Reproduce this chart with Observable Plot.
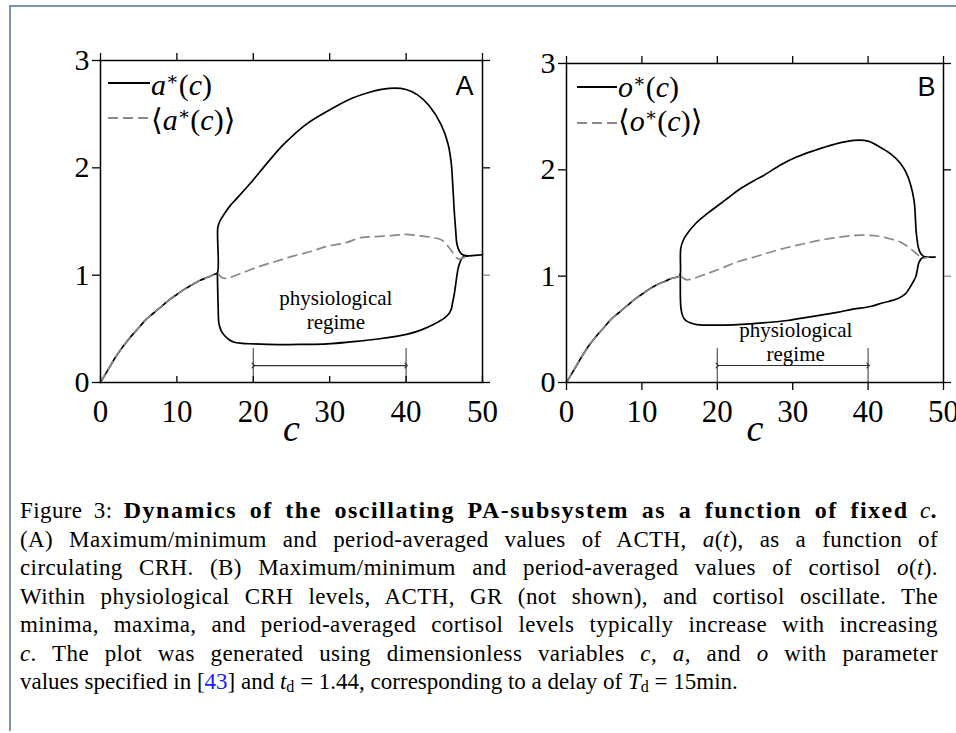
<!DOCTYPE html>
<html><head><meta charset="utf-8">
<script src="https://cdn.jsdelivr.net/npm/d3@7"></script>
<script src="https://cdn.jsdelivr.net/npm/@observablehq/plot@0.6"></script>
<style>
html,body{margin:0;padding:0;background:#fff;}
#page{position:relative;width:956px;height:733px;overflow:hidden;background:#fff;font-family:"Liberation Serif",serif;color:#000;}
#border{position:absolute;left:9px;top:5px;right:-4px;bottom:2px;border-left:2px solid #7b93b5;border-top:2px solid #7b93b5;}
.panel{position:absolute;top:0;}
.leg{position:absolute;font-size:30px;line-height:30px;white-space:nowrap;font-family:"Liberation Serif","DejaVu Serif",serif;}
.leg sup{font-size:0.62em;line-height:0;vertical-align:0.55em;}
.sw{position:absolute;height:2px;}
.solid{background:#000;}
.dash{background:repeating-linear-gradient(to right,#8a8a8a 0 10px,transparent 10px 15px);}
#caption{position:absolute;left:20px;top:496px;width:918px;font-size:23px;line-height:28.5px;font-family:"Liberation Serif",serif;}
#caption .j{display:block;text-align:justify;text-align-last:justify;letter-spacing:0.4px;}
#caption .l{display:block;text-align:left;}
#caption b{letter-spacing:1.5px;font-size:24px;}
#caption sub{font-size:0.7em;line-height:0;vertical-align:-0.2em;}
.ref{color:#1a1aff;}
</style></head>
<body><div id="page">
<div id="border"></div>
<div id="pA" class="panel" style="left:0px"></div>
<div id="pB" class="panel" style="left:470px"></div>
<div class="sw solid" style="left:108px;top:82px;width:42px"></div>
<div class="leg" style="left:151px;top:70px"><i>a</i><sup>∗</sup>(<i>c</i>)</div>
<div class="sw dash" style="left:108px;top:117px;width:42px"></div>
<div class="leg" style="left:151px;top:105px">⟨<i>a</i><sup>∗</sup>(<i>c</i>)⟩</div>
<div class="sw solid" style="left:577px;top:86px;width:40px"></div>
<div class="leg" style="left:618px;top:72px"><i>o</i><sup>∗</sup>(<i>c</i>)</div>
<div class="sw dash" style="left:577px;top:122px;width:40px"></div>
<div class="leg" style="left:618px;top:106px">⟨<i>o</i><sup>∗</sup>(<i>c</i>)⟩</div>
<div id="caption">
<span class="j">Figure 3: <b>Dynamics of the oscillating PA-subsystem as a function of fixed</b> <i>c</i><b>.</b></span>
<span class="j">(A) Maximum/minimum and period-averaged values of ACTH, <i>a</i>(<i>t</i>), as a function of</span>
<span class="j">circulating CRH. (B) Maximum/minimum and period-averaged values of cortisol <i>o</i>(<i>t</i>).</span>
<span class="j">Within physiological CRH levels, ACTH, GR (not shown), and cortisol oscillate. The</span>
<span class="j">minima, maxima, and period-averaged cortisol levels typically increase with increasing</span>
<span class="j"><i>c</i>. The plot was generated using dimensionless variables <i>c</i>, <i>a</i>, and <i>o</i> with parameter</span>
<span class="l">values specified in [<span class="ref">43</span>] and <i>t</i><sub>d</sub> = 1.44, corresponding to a delay of <i>T</i><sub>d</sub> = 15min.</span>
</div>
</div>
<script>
// ---- ticks ----
const xTicks = [0, 10, 20, 30, 40, 50];
const yTicks = [0, 1, 2, 3];
const yTicksBlack = [0, 2, 3];
const yTicksGray = [1];

// ---- Panel A: ACTH a*(c) ----
const aSteadyC = [0, 1, 2, 3, 4, 5, 6, 7, 8, 9, 10, 11, 12, 13, 14, 15, 15.3];
const aSteadyV = [0, 0.12, 0.24, 0.34, 0.43, 0.51, 0.59, 0.65, 0.71, 0.77, 0.82, 0.87, 0.91, 0.95, 0.98, 1.01, 1.02];
const aMaxC = [15.3, 15.35, 15.6, 16.2, 17.0, 17.9, 19.9, 22.0, 24.0, 27.0, 30.5, 33.0, 35.0, 37.8, 40.0, 41.5, 43.0, 44.6, 45.5, 45.9, 46.1, 46.3, 46.5, 46.65, 47.0, 47.4, 48.0, 49.0, 50.0];
const aMaxV = [1.02, 1.44, 1.50, 1.57, 1.65, 1.72, 1.88, 2.06, 2.22, 2.41, 2.56, 2.65, 2.70, 2.74, 2.73, 2.68, 2.58, 2.40, 2.22, 2.05, 1.85, 1.60, 1.41, 1.29, 1.22, 1.19, 1.18, 1.185, 1.19];
const aMinC = [15.3, 15.4, 15.5, 15.8, 16.2, 16.8, 17.5, 18.5, 19.9, 23.2, 26.5, 29.7, 33.0, 36.3, 40.2, 42.0, 43.7, 45.0, 45.6, 45.9, 46.1, 46.3, 46.5, 46.75, 47.0, 47.4, 48.0];
const aMinV = [1.02, 0.70, 0.55, 0.48, 0.44, 0.40, 0.375, 0.365, 0.36, 0.353, 0.355, 0.36, 0.38, 0.405, 0.45, 0.49, 0.545, 0.60, 0.64, 0.68, 0.75, 0.82, 0.92, 1.04, 1.11, 1.165, 1.18];
const aMeanC = [15.3, 15.8, 16.4, 18.5, 21.0, 23.0, 25.3, 27.5, 29.7, 32.0, 34.1, 36.0, 38.4, 40.0, 41.9, 43.5, 44.6, 45.6, 46.1, 46.5, 46.9, 47.3, 47.7, 48.0];
const aMeanV = [1.02, 0.98, 0.97, 1.02, 1.087, 1.13, 1.18, 1.22, 1.27, 1.30, 1.35, 1.36, 1.37, 1.38, 1.366, 1.35, 1.33, 1.26, 1.21, 1.17, 1.15, 1.155, 1.17, 1.18];

// ---- Panel B: cortisol o*(c) ----
const bSteadyC = [0, 1, 2, 3, 4, 5, 6, 7, 8, 9, 10, 11, 12, 13, 14, 15, 15.1];
const bSteadyV = [0, 0.12, 0.24, 0.35, 0.44, 0.52, 0.60, 0.66, 0.72, 0.78, 0.83, 0.88, 0.92, 0.95, 0.98, 1.00, 1.02];
const bMaxC = [15.1, 15.15, 15.5, 16.0, 17.2, 18.7, 20.0, 21.5, 23.0, 24.9, 26.2, 28.5, 30.5, 32.8, 35.5, 38.1, 40.0, 41.65, 43.0, 44.3, 45.0, 45.6, 46.1, 46.4, 46.7, 47.0, 47.4, 48.0, 48.9];
const bMaxV = [1.02, 1.26, 1.34, 1.40, 1.50, 1.59, 1.66, 1.74, 1.82, 1.90, 1.95, 2.05, 2.12, 2.18, 2.24, 2.277, 2.27, 2.21, 2.15, 2.06, 1.98, 1.87, 1.71, 1.40, 1.26, 1.21, 1.185, 1.18, 1.18];
const bMinC = [15.1, 15.15, 15.3, 15.6, 16.0, 16.5, 17.3, 18.2, 20.0, 22.7, 26.0, 29.3, 32.5, 35.9, 38.0, 40.3, 42.0, 43.9, 44.9, 45.6, 46.0, 46.3, 46.5, 46.7, 47.0, 47.4, 48.0];
const bMinV = [1.02, 0.72, 0.65, 0.60, 0.575, 0.56, 0.545, 0.54, 0.54, 0.545, 0.56, 0.583, 0.62, 0.66, 0.69, 0.715, 0.75, 0.787, 0.83, 0.90, 0.95, 0.99, 1.05, 1.12, 1.16, 1.18, 1.18];
const bMeanC = [15.1, 15.5, 16.0, 16.9, 18.5, 20.4, 22.5, 24.9, 27.0, 29.3, 31.5, 33.7, 36.0, 38.1, 40.0, 41.65, 43.0, 44.3, 45.6, 46.2, 46.7, 47.1, 47.5, 48.0];
const bMeanV = [1.02, 0.98, 0.966, 0.98, 1.02, 1.07, 1.13, 1.18, 1.225, 1.27, 1.305, 1.34, 1.365, 1.383, 1.385, 1.373, 1.35, 1.32, 1.26, 1.225, 1.195, 1.17, 1.17, 1.18];

// ---- annotations ----
const regimeC = [20, 40];
const regimeText = "physiological\nregime";
const regimeA = {arrowV: 0.158, barTopV: 0.316, labelC: 30.8, labelV: 0.50};
const regimeB = {arrowV: 0.16, barTopV: 0.32, labelC: 30.4, labelV: 0.205};
const xLabel = "c";

const zip = (C, V) => C.map((c, i) => ({c, v: V[i]}));
const SERIF = "Liberation Serif";

function panel(cfg) {
  const steady = zip(cfg.steadyC, cfg.steadyV);
  const maxD = steady.concat(zip(cfg.maxC, cfg.maxV).slice(1));
  const minD = zip(cfg.minC, cfg.minV);
  const meanD = steady.concat(zip(cfg.meanC, cfg.meanV).slice(1));
  const r = cfg.regime;
  return Plot.plot({
    width: cfg.width, height: 450,
    marginLeft: cfg.ml, marginRight: cfg.mr, marginTop: cfg.mt, marginBottom: 68,
    x: {domain: [0, 50], label: null},
    y: {domain: [0, 3], label: null},
    style: "font-family: 'Liberation Serif', serif; background: transparent; overflow: visible; color: #000;",
    marks: [
      Plot.ruleX(regimeC, {x: d => d, y1: 0, y2: r.barTopV, stroke: "#555", strokeWidth: 1.2}),
      Plot.link([regimeC], {x1: d => d[0], x2: d => d[1], y1: r.arrowV, y2: r.arrowV, stroke: "#333", strokeWidth: 1.2, markerStart: "arrow", markerEnd: "arrow"}),
      Plot.text([regimeText], {x: r.labelC, y: r.labelV, text: d => d, lineAnchor: "bottom", lineHeight: 1.13, fontSize: 21, textAnchor: "middle", fontFamily: SERIF}),
      Plot.line(maxD, {x: "c", y: "v", stroke: "#000", strokeWidth: 1.7, curve: "catmull-rom"}),
      Plot.line(minD, {x: "c", y: "v", stroke: "#000", strokeWidth: 1.7, curve: "catmull-rom"}),
      Plot.line(meanD, {x: "c", y: "v", stroke: "#8a8a8a", strokeWidth: 1.7, strokeDasharray: "9,6", curve: "catmull-rom"}),
      Plot.frame({stroke: "#000", strokeWidth: 1.5}),
      // tick marks (no text)
      Plot.axisY(yTicks, {anchor: "left", tickSize: 8, fill: "none", strokeWidth: 1.3}),
      Plot.axisY(yTicksBlack, {anchor: "right", tickSize: 7, fill: "none", strokeWidth: 1.3}),
      Plot.axisY(yTicksGray, {anchor: "right", tickSize: 7, fill: "none", stroke: "#8a8a8a", strokeWidth: 1.3}),
      Plot.axisX(xTicks, {anchor: "top", tickSize: 8, fill: "none", strokeWidth: 1.3}),
      Plot.axisX(xTicks, {anchor: "bottom", tickSize: cfg.bottomTick, fill: "none", strokeWidth: 1.3}),
      // tick labels
      Plot.text(yTicks, {y: d => d, text: d => String(d), frameAnchor: "left", textAnchor: "end", lineAnchor: "middle", dx: -11, fontSize: 30, fontFamily: SERIF}),
      Plot.text(xTicks, {x: d => d, text: d => String(d), frameAnchor: "bottom", textAnchor: "middle", lineAnchor: "top", dy: 17, fontSize: 31, fontFamily: SERIF}),
      Plot.text([xLabel], {frameAnchor: "bottom", text: d => d, lineAnchor: "bottom", dy: 58, fontSize: 38, fontStyle: "italic", fontFamily: SERIF}),
      Plot.text([cfg.letter], {frameAnchor: "top-right", text: d => d, textAnchor: "end", lineAnchor: "bottom", dx: cfg.ldx, dy: cfg.ldy, fontSize: 27, fontFamily: "Liberation Sans"})
    ]
  });
}

document.getElementById("pA").append(panel({
  width: 500, ml: 100, mr: 18, mt: 60, bottomTick: -6,
  steadyC: aSteadyC, steadyV: aSteadyV, maxC: aMaxC, maxV: aMaxV, minC: aMinC, minV: aMinV, meanC: aMeanC, meanV: aMeanV,
  regime: regimeA, letter: "A", ldx: -9, ldy: 34
}));
document.getElementById("pB").append(panel({
  width: 486, ml: 96, mr: 13, mt: 63, bottomTick: 8,
  steadyC: bSteadyC, steadyV: bSteadyV, maxC: bMaxC, maxV: bMaxV, minC: bMinC, minV: bMinV, meanC: bMeanC, meanV: bMeanV,
  regime: regimeB, letter: "B", ldx: -8, ldy: 32
}));
</script>
</body></html>
